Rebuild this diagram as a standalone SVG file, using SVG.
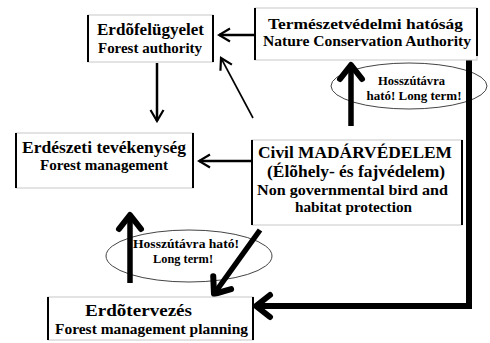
<svg xmlns="http://www.w3.org/2000/svg" width="490" height="343" viewBox="0 0 490 343">
<style>
.box{fill:#fff;stroke:#c8c8c8;stroke-width:1}
.side{stroke:#000;stroke-width:2}
.t{font-family:"Liberation Serif","Times New Roman",serif;font-weight:bold;fill:#000;text-anchor:middle}
.el{fill:#fff;stroke:#444;stroke-width:1}
.c{fill:none;stroke:#000}
.thin{stroke-width:2.5}
.thick{stroke-width:5.5}
</style>
<defs>
<marker id="ah" markerUnits="userSpaceOnUse" viewBox="-14 -9 16 18" refX="0" refY="0" markerWidth="16" markerHeight="18" orient="auto">
<path d="M-11,-6.5 L0,0 L-11,6.5" fill="none" stroke="#000" stroke-width="2.2"/>
</marker>
<marker id="ahk" markerUnits="userSpaceOnUse" viewBox="-20 -16 26 32" refX="0" refY="0" markerWidth="26" markerHeight="32" orient="auto">
<path d="M-14,-11 L0,0 L-14,11" fill="none" stroke="#000" stroke-width="6" stroke-linecap="round" stroke-linejoin="round"/>
</marker>
</defs>

<g id="ellipse-top">
<ellipse class="el" cx="409" cy="86" rx="78" ry="23"/>
<text class="t" font-size="13" x="411.5" y="85" textLength="67" lengthAdjust="spacingAndGlyphs">Hosszútávra</text>
<text class="t" font-size="13" x="414" y="100" textLength="95" lengthAdjust="spacing">ható! Long term!</text>
</g>
<g id="ellipse-bottom">
<ellipse class="el" cx="189" cy="256" rx="83" ry="26"/>
<text class="t" font-size="13" x="186" y="248" textLength="106" lengthAdjust="spacingAndGlyphs">Hosszútávra ható!</text>
<text class="t" font-size="13" x="183" y="262.5" textLength="60" lengthAdjust="spacingAndGlyphs">Long term!</text>
</g>

<g id="connectors">
<line class="c thin" x1="254" y1="35" x2="219" y2="35" marker-end="url(#ah)"/>
<line class="c" stroke-width="1.6" x1="253" y1="118" x2="221" y2="58" marker-end="url(#ah)"/>
<line class="c thin" x1="157" y1="63" x2="157" y2="121" marker-end="url(#ah)"/>
<line class="c thin" x1="252" y1="161" x2="199" y2="161" marker-end="url(#ah)"/>
<line class="c thick" x1="351" y1="126" x2="351" y2="65" marker-end="url(#ahk)"/>
<polyline class="c" stroke-width="6" points="469,57 469,306 256,306" marker-end="url(#ahk)"/>
<line class="c thick" x1="260" y1="230" x2="214" y2="294" marker-end="url(#ahk)"/>
<line class="c thick" x1="130" y1="283" x2="130" y2="215" marker-end="url(#ahk)"/>
</g>

<g id="n-forest-authority">
<rect class="box" x="88" y="15" width="125" height="47"/>
<line class="side" x1="88" y1="15" x2="88" y2="62"/>
<line class="side" x1="213" y1="15" x2="213" y2="62"/>
<text class="t" font-size="17" x="150.5" y="35" textLength="107" lengthAdjust="spacingAndGlyphs">Erdõfelügyelet</text>
<text class="t" font-size="15" x="150" y="53" textLength="104" lengthAdjust="spacingAndGlyphs">Forest authority</text>
</g>

<g id="n-nature-conservation">
<rect class="box" x="255" y="8" width="222" height="52"/>
<line class="side" x1="255" y1="8" x2="255" y2="60"/>
<line class="side" x1="477" y1="8" x2="477" y2="56"/>
<text class="t" font-size="15.5" x="365.5" y="28.5" textLength="195" lengthAdjust="spacingAndGlyphs">Természetvédelmi hatóság</text>
<text class="t" font-size="14.5" x="367" y="46" textLength="208" lengthAdjust="spacingAndGlyphs">Nature Conservation Authority</text>
</g>

<g id="n-forest-management">
<rect class="box" x="16" y="133" width="177" height="55"/>
<line class="side" x1="16" y1="133" x2="16" y2="188"/>
<line class="side" x1="193" y1="133" x2="193" y2="188"/>
<text class="t" font-size="17.5" x="104" y="153" textLength="164" lengthAdjust="spacingAndGlyphs">Erdészeti tevékenység</text>
<text class="t" font-size="14.5" x="104" y="170" textLength="128" lengthAdjust="spacingAndGlyphs">Forest management</text>
</g>

<g id="n-civil">
<rect class="box" x="252" y="140" width="210" height="85"/>
<line class="side" x1="252" y1="140" x2="252" y2="225"/>
<line class="side" x1="462" y1="140" x2="462" y2="225"/>
<text class="t" font-size="17.5" x="355" y="158" textLength="194" lengthAdjust="spacingAndGlyphs">Civil MADÁRVÉDELEM</text>
<text class="t" font-size="16.5" x="356" y="177" textLength="178" lengthAdjust="spacingAndGlyphs">(Élõhely- és fajvédelem)</text>
<text class="t" font-size="15" x="352.5" y="194.5" textLength="191" lengthAdjust="spacingAndGlyphs">Non governmental bird and</text>
<text class="t" font-size="15.5" x="353.5" y="212" textLength="117" lengthAdjust="spacingAndGlyphs">habitat protection</text>
</g>

<g id="n-forest-planning">
<rect class="box" x="48" y="297" width="205" height="43"/>
<line class="side" x1="48" y1="297" x2="48" y2="340"/>
<line class="side" x1="253" y1="297" x2="253" y2="340"/>
<text class="t" font-size="16.5" x="138.5" y="316" textLength="107" lengthAdjust="spacingAndGlyphs">Erdõtervezés</text>
<text class="t" font-size="15" x="151.5" y="334" textLength="193" lengthAdjust="spacingAndGlyphs">Forest management planning</text>
</g>
</svg>
